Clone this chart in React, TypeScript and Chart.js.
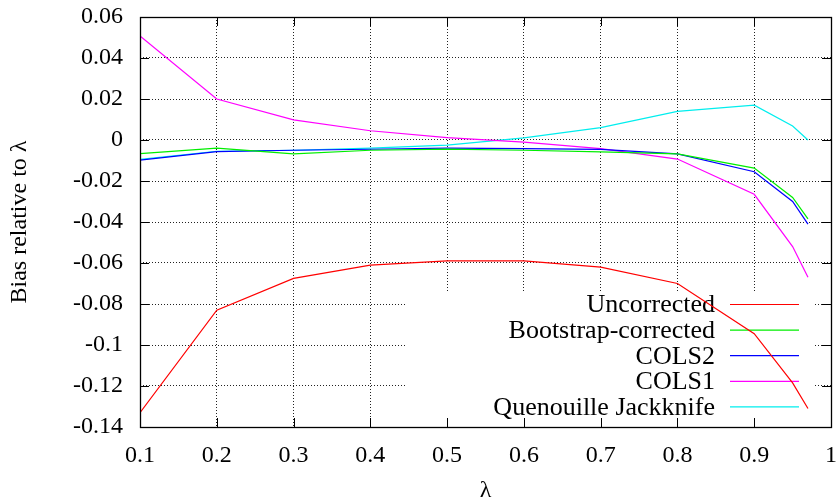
import React, { useEffect, useRef } from "react";
import { Chart, registerables } from "chart.js";

Chart.register(...registerables);

// λ values at which each estimator's bias was evaluated
const lambdas = [0.1, 0.2, 0.3, 0.4, 0.5, 0.6, 0.7, 0.8, 0.9, 0.95, 0.97];

const uncorrected = [-0.133, -0.083, -0.0675, -0.061, -0.059, -0.059, -0.062, -0.07, -0.0945, -0.1185, -0.131];
const bootstrapCorrected = [-0.0066, -0.004, -0.0068, -0.005, -0.0045, -0.005, -0.0058, -0.0068, -0.0137, -0.028, -0.0385];
const cols2 = [-0.0098, -0.0057, -0.005, -0.0045, -0.004, -0.0042, -0.0046, -0.0068, -0.0155, -0.03, -0.041];
const cols1 = [0.0507, 0.02, 0.0098, 0.0045, 0.0012, -0.001, -0.0042, -0.0093, -0.0265, -0.052, -0.067];
const quenouille = [-0.0095, -0.0055, -0.005, -0.004, -0.0025, 0.001, 0.006, 0.014, 0.017, 0.0068, 0.0];

const seriesNames = ["Uncorrected", "Bootstrap-corrected", "COLS2", "COLS1", "Quenouille Jackknife"];
const seriesValues = [uncorrected, bootstrapCorrected, cols2, cols1, quenouille];
const seriesColors = ["#ff0000", "#00ee00", "#0000ff", "#ff00ff", "#00eeee"];

const xTicks = [0.1, 0.2, 0.3, 0.4, 0.5, 0.6, 0.7, 0.8, 0.9, 1.0];
const xTickLabels = ["0.1", "0.2", "0.3", "0.4", "0.5", "0.6", "0.7", "0.8", "0.9", "1"];
const yTicks = [0.06, 0.04, 0.02, 0, -0.02, -0.04, -0.06, -0.08, -0.1, -0.12, -0.14];
const yTickLabels = ["0.06", "0.04", "0.02", "0", "-0.02", "-0.04", "-0.06", "-0.08", "-0.1", "-0.12", "-0.14"];

const FONT = "'Liberation Serif', 'Times New Roman', serif";

// White key box with labels and line samples, drawn under the curves
const keyPlugin = {
  id: "gnuKey",
  beforeDatasetsDraw(chart: any) {
    const { ctx, chartArea } = chart;
    const right = chartArea.right - 16;
    const left = right - 409;
    const top = chartArea.top + 275;
    ctx.save();
    ctx.fillStyle = "#ffffff";
    ctx.fillRect(left, top, right - left, chartArea.bottom - top);
    ctx.font = `26px ${FONT}`;
    ctx.textAlign = "right";
    ctx.textBaseline = "middle";
    const rowH = 25.6;
    const firstRow = chartArea.top + 287.5;
    seriesNames.forEach((name, i) => {
      const y = firstRow + i * rowH;
      ctx.fillStyle = "#000";
      ctx.fillText(name, chartArea.right - 116, y + 1);
      ctx.strokeStyle = seriesColors[i];
      ctx.lineWidth = 1.2;
      ctx.beginPath();
      ctx.moveTo(chartArea.right - 101, y);
      ctx.lineTo(chartArea.right - 32, y);
      ctx.stroke();
    });
    ctx.restore();
  },
};

// Solid frame with inward tick marks on all four sides
const framePlugin = {
  id: "gnuFrame",
  afterDatasetsDraw(chart: any) {
    const { ctx, chartArea, scales } = chart;
    const { left, right, top, bottom } = chartArea;
    const len = 9;
    ctx.save();
    ctx.strokeStyle = "#000";
    ctx.lineWidth = 1;
    ctx.beginPath();
    xTicks.forEach((v) => {
      const x = Math.round(scales.x.getPixelForValue(v)) + 0.5;
      ctx.moveTo(x, bottom);
      ctx.lineTo(x, bottom - len);
      ctx.moveTo(x, top);
      ctx.lineTo(x, top + len);
    });
    yTicks.forEach((v) => {
      const y = Math.round(scales.y.getPixelForValue(v)) + 0.5;
      ctx.moveTo(left, y);
      ctx.lineTo(left + len, y);
      ctx.moveTo(right, y);
      ctx.lineTo(right - len, y);
    });
    ctx.stroke();
    ctx.lineWidth = 1.3;
    ctx.strokeRect(Math.round(left) + 0.5, Math.round(top) + 0.5, Math.round(right - left), Math.round(bottom - top));
    ctx.restore();
  },
};

export default function App() {
  const canvasRef = useRef<HTMLCanvasElement | null>(null);

  useEffect(() => {
    document.body.style.margin = "0";
    const canvas = canvasRef.current;
    if (!canvas) return;

    const datasets = seriesNames.map((name, i) => ({
      label: name,
      data: lambdas.map((x, j) => ({ x, y: seriesValues[i][j] })),
      borderColor: seriesColors[i],
      backgroundColor: seriesColors[i],
      borderWidth: 1.2,
      pointRadius: 0,
      tension: 0,
      fill: false,
    }));

    const chart = new Chart(canvas, {
      type: "line",
      data: { datasets },
      plugins: [keyPlugin, framePlugin],
      options: {
        responsive: false,
        animation: false,
        layout: { padding: { top: 17, right: 9, left: 0, bottom: 0 } },
        plugins: { legend: { display: false }, tooltip: { enabled: false } },
        scales: {
          x: {
            type: "linear",
            min: 0.1,
            max: 1,
            afterFit: (s: any) => {
              s.height = 76;
              s.paddingLeft = 0;
              s.paddingRight = 0;
            },
            afterBuildTicks: (s: any) => {
              s.ticks = xTicks.map((v) => ({ value: v }));
            },
            ticks: {
              padding: 14,
              color: "#000",
              font: { family: FONT, size: 24 },
              maxRotation: 0,
              autoSkip: false,
              callback: (v: any) => xTickLabels[xTicks.findIndex((t) => Math.abs(t - v) < 1e-9)],
            },
            grid: { color: "#222", lineWidth: 1, drawTicks: false },
            border: { display: false, dash: [1, 2] },
            title: {
              display: true,
              text: "λ",
              color: "#000",
              font: { family: FONT, size: 24, lineHeight: 1 },
              padding: { top: 0, bottom: 0 },
            },
          },
          y: {
            type: "linear",
            min: -0.14,
            max: 0.06,
            afterFit: (s: any) => {
              s.width = 140;
              s.paddingTop = 0;
              s.paddingBottom = 0;
            },
            afterBuildTicks: (s: any) => {
              s.ticks = yTicks.map((v) => ({ value: v }));
            },
            ticks: {
              padding: 17,
              color: "#000",
              font: { family: FONT, size: 24 },
              autoSkip: false,
              callback: (v: any) => yTickLabels[yTicks.findIndex((t) => Math.abs(t - v) < 1e-9)],
            },
            grid: { color: "#222", lineWidth: 1, drawTicks: false },
            border: { display: false, dash: [1, 2] },
            title: {
              display: true,
              text: "Bias relative to λ",
              color: "#000",
              font: { family: FONT, size: 24, lineHeight: 1 },
              padding: { top: 8, bottom: 0 },
            },
          },
        },
      },
    });

    return () => chart.destroy();
  }, []);

  return (
    <div style={{ width: 840, height: 503 }}>
      <canvas ref={canvasRef} width={840} height={503} style={{ display: "block" }} />
    </div>
  );
}
